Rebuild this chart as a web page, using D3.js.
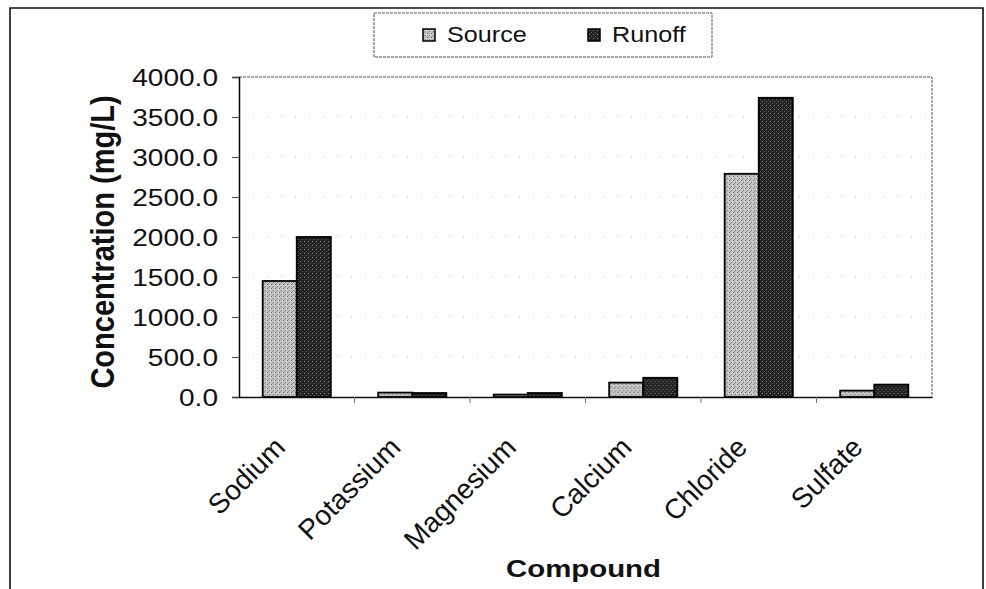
<!DOCTYPE html>
<html>
<head>
<meta charset="utf-8">
<script src="https://cdn.jsdelivr.net/npm/d3@7"></script>
<style>
  html, body { margin: 0; padding: 0; background: #fff; }
  svg { display: block; font-family: "Liberation Sans", Arial, sans-serif; }
</style>
</head>
<body>
<svg id="chart" width="986" height="589"></svg>
<script>
// Ion concentrations, source water vs. runoff (mg/L)
const compounds = ["Sodium", "Potassium", "Magnesium", "Calcium", "Chloride", "Sulfate"];
const seriesNames = ["Source", "Runoff"];
const sourceValues = [1450, 55, 30, 180, 2790, 80];
const runoffValues = [2000, 50, 50, 240, 3740, 155];
const yTickValues = [0, 500, 1000, 1500, 2000, 2500, 3000, 3500, 4000];

const svg = d3.select("#chart");

// Plot area
const plot = { left: 239, right: 932, top: 77, bottom: 397 };

// Bar textures
const defs = svg.append("defs");
const srcPat = defs.append("pattern").attr("id", "pat-source")
  .attr("width", 4).attr("height", 4).attr("patternUnits", "userSpaceOnUse");
srcPat.append("rect").attr("width", 4).attr("height", 4).attr("fill", "#c2c2c2");
srcPat.append("rect").attr("x", 0).attr("y", 0).attr("width", 1).attr("height", 1).attr("fill", "#6e6e6e");
srcPat.append("rect").attr("x", 2).attr("y", 2).attr("width", 1).attr("height", 1).attr("fill", "#808080");
srcPat.append("rect").attr("x", 3).attr("y", 1).attr("width", 1).attr("height", 1).attr("fill", "#e6e6e6");
srcPat.append("rect").attr("x", 1).attr("y", 3).attr("width", 1).attr("height", 1).attr("fill", "#9a9a9a");
const runPat = defs.append("pattern").attr("id", "pat-runoff")
  .attr("width", 4).attr("height", 4).attr("patternUnits", "userSpaceOnUse");
runPat.append("rect").attr("width", 4).attr("height", 4).attr("fill", "#222");
runPat.append("rect").attr("x", 1).attr("y", 1).attr("width", 1).attr("height", 1).attr("fill", "#8a8a8a");
runPat.append("rect").attr("x", 3).attr("y", 3).attr("width", 1).attr("height", 1).attr("fill", "#5e5e5e");
const fills = { Source: "url(#pat-source)", Runoff: "url(#pat-runoff)" };

// Chart frame
svg.append("path")
  .attr("d", "M10,589 L10,8 L983,8 L983,589")
  .attr("fill", "none").attr("stroke", "#111").attr("stroke-width", 1.6);

// Scales
const x = d3.scaleBand().domain(compounds).range([plot.left, plot.right]).padding(0);
const xs = d3.scaleBand().domain(seriesNames)
  .range([x.bandwidth() * 0.205, x.bandwidth() * 0.795]).padding(0);
const y = d3.scaleLinear().domain([0, 4000]).range([plot.bottom, plot.top]);

// Gridlines (faint, sparse dots)
svg.append("g").selectAll("line").data(yTickValues.filter(v => v > 0 && v < 4000)).join("line")
  .attr("x1", plot.left).attr("x2", plot.right)
  .attr("y1", d => y(d)).attr("y2", d => y(d))
  .attr("stroke", "#b5b5b5").attr("stroke-width", 1).attr("stroke-dasharray", "1,13");

// Plot-area top and right border (dotted)
svg.append("path")
  .attr("d", `M${plot.left},${y(4000)} L${plot.right},${y(4000)} L${plot.right},${plot.bottom}`)
  .attr("fill", "none").attr("stroke", "#555").attr("stroke-width", 1).attr("stroke-dasharray", "3,1");

// Bars
const rows = compounds.map((c, i) => ({ compound: c, values: [
  { series: "Source", value: sourceValues[i] },
  { series: "Runoff", value: runoffValues[i] }
]}));
svg.append("g").selectAll("g").data(rows).join("g")
  .attr("transform", d => `translate(${x(d.compound)},0)`)
  .selectAll("rect").data(d => d.values).join("rect")
  .attr("x", d => xs(d.series))
  .attr("y", d => y(d.value))
  .attr("width", xs.bandwidth())
  .attr("height", d => y(0) - y(d.value))
  .attr("fill", d => fills[d.series])
  .attr("stroke", "#000").attr("stroke-width", 1.8);

// Y axis
const yAxis = svg.append("g").attr("transform", `translate(${plot.left},0)`)
  .call(d3.axisLeft(y).tickValues(yTickValues).tickFormat(d3.format(".1f")).tickSize(7).tickPadding(0));
yAxis.select(".domain").attr("stroke", "#000").attr("stroke-width", 1.5);
yAxis.selectAll(".tick line").attr("stroke", "#444");
yAxis.selectAll(".tick text")
  .attr("x", null).attr("dy", null)
  .attr("font-size", 23).attr("fill", "#111")
  .attr("text-anchor", "end")
  .attr("transform", "translate(-21,8) scale(1.22,1)");

// X axis
const xAxis = svg.append("g").attr("transform", `translate(0,${plot.bottom})`)
  .call(d3.axisBottom(x).tickSize(0).tickFormat(""));
xAxis.select(".domain").attr("stroke", "#111").attr("stroke-width", 1.5);
// category separators
svg.append("g").selectAll("line").data(compounds.slice(1)).join("line")
  .attr("x1", d => x(d)).attr("x2", d => x(d))
  .attr("y1", plot.bottom).attr("y2", plot.bottom + 6)
  .attr("stroke", "#777").attr("stroke-width", 1);
// rotated category labels
svg.append("g").selectAll("text").data(compounds).join("text")
  .attr("transform", d => `translate(${x(d) + x.bandwidth() / 2 - 10},${plot.bottom + 52}) rotate(-45)`)
  .attr("text-anchor", "end")
  .attr("font-size", 28).attr("fill", "#111")
  .text(d => d);

// Axis titles
svg.append("text")
  .attr("transform", `translate(${(plot.left + plot.right) / 2 - 2},577) scale(1.2,1)`)
  .attr("text-anchor", "middle").attr("font-weight", "bold").attr("font-size", 24.5).attr("fill", "#111")
  .text("Compound");
svg.append("text")
  .attr("transform", `translate(114,${(plot.top + plot.bottom) / 2 + 5}) scale(1.15,1) rotate(-90)`)
  .attr("text-anchor", "middle").attr("font-weight", "bold").attr("font-size", 29).attr("fill", "#111")
  .text("Concentration (mg/L)");

// Legend
const legend = svg.append("g");
legend.append("rect")
  .attr("x", 374).attr("y", 13).attr("width", 338).attr("height", 44)
  .attr("fill", "#fff").attr("stroke", "#555").attr("stroke-width", 1).attr("stroke-dasharray", "3,1");
const legendItems = legend.selectAll("g.item").data(seriesNames).join("g")
  .attr("class", "item")
  .attr("transform", (d, i) => `translate(${423 + i * 165},29)`);
legendItems.append("rect")
  .attr("width", 12).attr("height", 12)
  .attr("fill", d => fills[d]).attr("stroke", "#000").attr("stroke-width", 1.5);
legendItems.append("text")
  .attr("transform", "translate(24,13) scale(1.12,1)")
  .attr("font-size", 22.5).attr("fill", "#111")
  .text(d => d);
</script>
</body>
</html>
